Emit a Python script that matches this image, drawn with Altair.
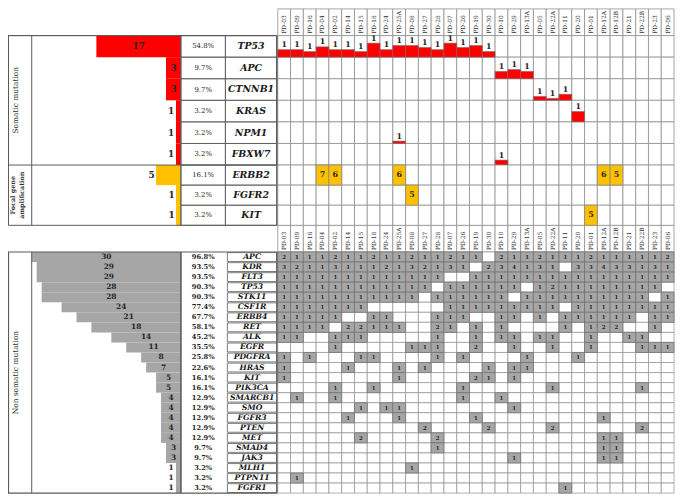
import altair as alt
import pandas as pd

# ---------------- data ----------------
samples = ["PD-03", "PD-09", "PD-16", "PD-04", "PD-02", "PD-14", "PD-15", "PD-18",
           "PD-24", "PD-25A", "PD-08", "PD-27", "PD-28", "PD-07", "PD-26", "PD-19",
           "PD-30", "PD-10", "PD-29", "PD-13A", "PD-05", "PD-22A", "PD-11", "PD-20",
           "PD-01", "PD-12A", "PD-12B", "PD-21", "PD-22B", "PD-23", "PD-06"]

som_genes = ["TP53", "APC", "CTNNB1", "KRAS", "NPM1", "FBXW7"]
som_counts = [17, 3, 3, 1, 1, 1]
som_pct = ["54.8%", "9.7%", "9.7%", "3.2%", "3.2%", "3.2%"]

som_ev_gene = ["TP53", "TP53", "TP53", "TP53", "TP53", "TP53", "TP53", "TP53", "TP53",
               "TP53", "TP53", "TP53", "TP53", "TP53", "TP53", "TP53", "TP53",
               "APC", "APC", "APC", "CTNNB1", "CTNNB1", "CTNNB1", "KRAS", "NPM1", "FBXW7"]
som_ev_sample = ["PD-03", "PD-09", "PD-16", "PD-04", "PD-02", "PD-14", "PD-15", "PD-18",
                 "PD-24", "PD-25A", "PD-08", "PD-27", "PD-28", "PD-07", "PD-26", "PD-19",
                 "PD-30", "PD-10", "PD-29", "PD-13A", "PD-05", "PD-22A", "PD-11", "PD-20",
                 "PD-25A", "PD-10"]
som_ev_vaf = [0.35, 0.35, 0.26, 0.48, 0.35, 0.35, 0.26, 0.65, 0.35, 0.54, 0.54, 0.45,
              0.35, 0.65, 0.45, 0.54, 0.26, 0.34, 0.43, 0.34, 0.18, 0.09, 0.28, 0.48,
              0.11, 0.23]
som_ev_num = [1, 1, 1, 1, 1, 1, 1, 1, 1, 1, 1, 1, 1, 1, 1, 1, 1, 1, 1, 1, 1, 1, 1, 1, 1, 1]

foc_genes = ["ERBB2", "FGFR2", "KIT"]
foc_counts = [5, 1, 1]
foc_pct = ["16.1%", "3.2%", "3.2%"]
foc_ev_gene = ["ERBB2", "ERBB2", "ERBB2", "ERBB2", "ERBB2", "FGFR2", "KIT"]
foc_ev_sample = ["PD-04", "PD-02", "PD-25A", "PD-12A", "PD-12B", "PD-08", "PD-01"]
foc_ev_copies = [7, 6, 6, 6, 5, 5, 5]

non_genes = ["APC", "KDR", "FLT3", "TP53", "STK11", "CSF1R", "ERBB4", "RET", "ALK", "EGFR",
             "PDGFRA", "HRAS", "KIT", "PIK3CA", "SMARCB1", "SMO", "FGFR3", "PTEN", "MET",
             "SMAD4", "JAK3", "MLH1", "PTPN11", "FGFR1"]
non_counts = [30, 29, 29, 28, 28, 24, 21, 18, 14, 11, 8, 7, 5, 5, 4, 4, 4, 4, 4, 3, 3, 1, 1, 1]
non_pct = ["96.8%", "93.5%", "93.5%", "90.3%", "90.3%", "77.4%", "67.7%", "58.1%", "45.2%",
           "35.5%", "25.8%", "22.6%", "16.1%", "16.1%", "12.9%", "12.9%", "12.9%", "12.9%",
           "12.9%", "9.7%", "9.7%", "3.2%", "3.2%", "3.2%"]
non_values = [
    [2, 1, 1, 1, 2, 1, 1, 2, 1, 1, 2, 1, 1, 2, 1, 1, 0, 2, 1, 1, 2, 1, 1, 1, 2, 1, 1, 1, 1, 1, 2],  # APC
    [3, 2, 1, 1, 3, 1, 1, 1, 2, 1, 3, 2, 1, 3, 1, 0, 2, 3, 4, 1, 3, 1, 0, 3, 3, 4, 3, 3, 1, 3, 1],  # KDR
    [1, 1, 1, 1, 1, 1, 1, 1, 1, 1, 1, 1, 1, 0, 0, 1, 1, 1, 1, 1, 1, 1, 1, 1, 1, 1, 1, 1, 1, 1, 1],  # FLT3
    [1, 1, 1, 1, 1, 1, 1, 1, 1, 1, 1, 1, 0, 1, 1, 1, 1, 1, 1, 0, 1, 2, 1, 1, 1, 1, 1, 1, 1, 1, 0],  # TP53
    [1, 1, 1, 1, 1, 1, 1, 1, 1, 1, 1, 0, 1, 1, 1, 1, 1, 1, 0, 1, 1, 1, 1, 1, 1, 1, 1, 1, 1, 0, 1],  # STK11
    [1, 1, 1, 1, 1, 1, 1, 0, 0, 0, 0, 0, 0, 1, 1, 1, 1, 1, 1, 1, 1, 1, 0, 1, 1, 1, 1, 1, 1, 1, 1],  # CSF1R
    [1, 1, 1, 1, 1, 0, 0, 1, 1, 0, 0, 0, 1, 1, 1, 0, 0, 1, 1, 0, 1, 0, 1, 1, 1, 1, 1, 1, 0, 1, 1],  # ERBB4
    [1, 1, 1, 1, 0, 2, 2, 1, 1, 1, 0, 0, 2, 1, 0, 1, 0, 1, 0, 0, 0, 0, 1, 0, 1, 2, 2, 0, 0, 1, 0],  # RET
    [1, 1, 0, 0, 1, 1, 1, 0, 0, 0, 0, 0, 1, 0, 0, 1, 0, 1, 1, 0, 1, 1, 0, 0, 1, 0, 0, 1, 1, 0, 0],  # ALK
    [0, 0, 0, 0, 1, 0, 0, 0, 0, 0, 1, 1, 1, 0, 0, 2, 0, 0, 1, 0, 0, 1, 0, 0, 1, 0, 0, 0, 1, 1, 1],  # EGFR
    [1, 0, 1, 0, 0, 0, 1, 1, 0, 0, 0, 0, 1, 0, 1, 0, 0, 0, 0, 1, 0, 0, 0, 1, 0, 0, 0, 0, 0, 0, 0],  # PDGFRA
    [1, 0, 0, 0, 0, 1, 0, 0, 0, 1, 0, 1, 0, 0, 0, 0, 1, 0, 1, 1, 0, 0, 0, 0, 0, 0, 0, 0, 0, 0, 0],  # HRAS
    [1, 0, 0, 0, 0, 0, 0, 0, 0, 1, 0, 0, 0, 0, 0, 2, 1, 0, 1, 0, 0, 0, 0, 0, 0, 0, 0, 0, 0, 0, 0],  # KIT
    [0, 0, 0, 0, 1, 0, 0, 1, 0, 0, 0, 0, 0, 0, 1, 0, 0, 0, 0, 0, 0, 1, 0, 0, 0, 0, 0, 0, 1, 0, 0],  # PIK3CA
    [0, 1, 0, 0, 1, 0, 0, 0, 0, 0, 0, 0, 0, 0, 1, 0, 0, 1, 0, 0, 0, 0, 0, 0, 0, 0, 0, 0, 0, 0, 0],  # SMARCB1
    [0, 0, 0, 0, 0, 0, 1, 0, 1, 1, 0, 0, 0, 0, 0, 0, 0, 0, 1, 0, 0, 0, 0, 0, 0, 0, 0, 0, 0, 0, 0],  # SMO
    [0, 0, 0, 0, 0, 1, 0, 0, 0, 1, 0, 0, 0, 0, 0, 1, 0, 0, 0, 0, 0, 0, 0, 0, 0, 1, 0, 0, 0, 0, 0],  # FGFR3
    [0, 0, 0, 0, 0, 0, 0, 0, 0, 0, 0, 2, 0, 0, 0, 0, 2, 0, 0, 0, 0, 2, 0, 0, 0, 0, 0, 0, 2, 0, 0],  # PTEN
    [0, 0, 0, 0, 0, 0, 2, 0, 0, 0, 0, 0, 2, 0, 0, 0, 0, 0, 0, 0, 0, 0, 0, 0, 0, 1, 1, 0, 0, 0, 0],  # MET
    [0, 0, 0, 0, 0, 0, 0, 0, 0, 0, 0, 0, 1, 0, 0, 0, 0, 0, 0, 0, 0, 0, 0, 0, 0, 1, 1, 0, 0, 0, 0],  # SMAD4
    [0, 0, 0, 0, 0, 0, 0, 0, 0, 0, 0, 0, 0, 0, 0, 0, 0, 0, 1, 0, 0, 0, 0, 0, 0, 1, 1, 0, 0, 0, 0],  # JAK3
    [0, 0, 0, 0, 0, 0, 0, 0, 0, 0, 1, 0, 0, 0, 0, 0, 0, 0, 0, 0, 0, 0, 0, 0, 0, 0, 0, 0, 0, 0, 0],  # MLH1
    [0, 1, 0, 0, 0, 0, 0, 0, 0, 0, 0, 0, 0, 0, 0, 0, 0, 0, 0, 0, 0, 0, 0, 0, 0, 0, 0, 0, 0, 0, 0],  # PTPN11
    [0, 0, 0, 0, 0, 0, 0, 0, 0, 0, 0, 0, 0, 0, 0, 0, 0, 0, 0, 0, 0, 0, 1, 0, 0, 0, 0, 0, 0, 0, 0],  # FGFR1
]

# ---------------- layout (pixels inside the plot area) ----------------
W, H = 677, 489
GX = [273, 674]          # sample grid
XB = [24, 175]           # count bars
XP = [175, 220]          # percent column
XG = [220, 272]          # gene column
Y_H1 = [0, 25]
Y_S = [25, 156]
Y_F = [156, 217]
Y_H2 = [217, 244]
Y_N = [244, 488]

SERIF = "DejaVu Serif"
GRID = "#8f8f8f"
FRAME = "#5a5a5a"
RED = "#ff0000"
ORANGE = "#ffc000"
GRAY = "#a6a6a6"
TXT = "#262626"


def xs():
    return alt.X("sample:N", scale=alt.Scale(type="band", domain=samples, range=GX,
                                             paddingInner=0, paddingOuter=0), axis=None)


def yb(domain, rng, pad=0.0):
    return alt.Y("gene:N", scale=alt.Scale(type="band", domain=domain, range=rng,
                                           paddingInner=pad, paddingOuter=pad / 2), axis=None)


def xc(field):
    return alt.X(field, scale=alt.Scale(domain=[0, 30], range=[XB[1], XB[0]], nice=False),
                 axis=None)


def lab_pos(counts, outside):
    out = []
    for c in counts:
        if outside:
            out.append(c + 0.9)
        elif c >= 3:
            out.append(c / 2)
        else:
            out.append(c + 1.0)
    return out


one = pd.DataFrame({"k": [0]})
samp_df = pd.DataFrame({"sample": samples})

som_df = pd.DataFrame({"gene": som_genes, "count": som_counts, "pct": som_pct,
                       "labx": lab_pos(som_counts, False)})
foc_df = pd.DataFrame({"gene": foc_genes, "count": foc_counts, "pct": foc_pct,
                       "labx": lab_pos(foc_counts, True)})
non_df = pd.DataFrame({"gene": non_genes, "count": non_counts, "pct": non_pct,
                       "labx": lab_pos(non_counts, False)})

som_cells = pd.DataFrame([{"gene": g, "sample": s} for g in som_genes for s in samples])
foc_cells = pd.DataFrame([{"gene": g, "sample": s} for g in foc_genes for s in samples])

row_of = {g: i for i, g in enumerate(som_genes)}
som_ev = pd.DataFrame({"gene": som_ev_gene, "sample": som_ev_sample, "vaf": som_ev_vaf,
                       "num": som_ev_num})
som_ev["bottom"] = [row_of[g] + 1 for g in som_ev["gene"]]
som_ev["top"] = som_ev["bottom"] - som_ev["vaf"]

foc_ev = pd.DataFrame({"gene": foc_ev_gene, "sample": foc_ev_sample, "v": foc_ev_copies})

non_rows = []
for g, vals in zip(non_genes, non_values):
    for s, v in zip(samples, vals):
        non_rows.append({"gene": g, "sample": s, "v": v})
non_cells = pd.DataFrame(non_rows)
non_hits = non_cells[non_cells["v"] > 0]

yrow = alt.Scale(domain=[0, len(som_genes)], range=Y_S, nice=False, zero=False)

layers = []

# ---- column headers ----
for (y0, y1) in (Y_H1, Y_H2):
    layers.append(alt.Chart(samp_df).mark_rect(fill="white", stroke=GRID, strokeWidth=0.8)
                  .encode(x=xs(), y=alt.value(y0 - 2 if y0 == 0 else y0), y2=alt.value(y1)))
    layers.append(alt.Chart(samp_df).mark_text(angle=270, align="left", baseline="middle",
                                               font=SERIF, fontSize=6, color="#333333")
                  .encode(x=xs(), y=alt.value(y1 - 2), text="sample:N"))

# ---- somatic grid ----
layers.append(alt.Chart(som_cells).mark_rect(fill="white", stroke=GRID, strokeWidth=0.8)
              .encode(x=xs(), y=yb(som_genes, Y_S)))
layers.append(alt.Chart(som_ev).mark_rect(fill=RED, stroke="#707070", strokeWidth=0.6)
              .encode(x=xs(), y=alt.Y("top:Q", scale=yrow, axis=None), y2="bottom:Q"))
layers.append(alt.Chart(som_ev).mark_text(baseline="bottom", dy=-0.5, font=SERIF,
                                          fontWeight="bold", fontSize=8, color=TXT)
              .encode(x=xs(), y=alt.Y("top:Q", scale=yrow, axis=None), text="num:Q"))

# ---- focal grid ----
layers.append(alt.Chart(foc_cells).mark_rect(fill="white", stroke=GRID, strokeWidth=0.8)
              .encode(x=xs(), y=yb(foc_genes, Y_F)))
layers.append(alt.Chart(foc_ev).mark_rect(fill=ORANGE, stroke="#8a8a8a", strokeWidth=0.8)
              .encode(x=xs(), y=yb(foc_genes, Y_F)))
layers.append(alt.Chart(foc_ev).mark_text(font=SERIF, fontWeight="bold", fontSize=8, color=TXT)
              .encode(x=xs(), y=yb(foc_genes, Y_F), text="v:Q"))

# ---- non-somatic grid ----
layers.append(alt.Chart(non_cells).mark_rect(fill="white", stroke=GRID, strokeWidth=0.7)
              .encode(x=xs(), y=yb(non_genes, Y_N)))
layers.append(alt.Chart(non_hits).mark_rect(fill=GRAY, stroke="#6e6e6e", strokeWidth=0.7)
              .encode(x=xs(), y=yb(non_genes, Y_N)))
layers.append(alt.Chart(non_hits).mark_text(font=SERIF, fontWeight="bold", fontSize=5.5,
                                            color=TXT)
              .encode(x=xs(), y=yb(non_genes, Y_N), text="v:Q"))

# ---- left tables: count bars, percentages, gene names ----
sections = [
    (som_df, som_genes, Y_S, RED, 9.5, 9),
    (foc_df, foc_genes, Y_F, ORANGE, 9.5, 9),
]
for df, genes, yr, col, gsize, csize in sections:
    layers.append(alt.Chart(df).mark_bar(color=col).encode(x=xc("count:Q"), y=yb(genes, yr)))
    layers.append(alt.Chart(df).mark_text(font=SERIF, fontWeight="bold", fontSize=csize,
                                          color=TXT)
                  .encode(x=xc("labx:Q"), y=yb(genes, yr), text="count:Q"))
    layers.append(alt.Chart(df).mark_rect(filled=False, stroke=FRAME, strokeWidth=0.8)
                  .encode(x=alt.value(XP[0]), x2=alt.value(XP[1]), y=yb(genes, yr)))
    layers.append(alt.Chart(df).mark_rect(filled=False, stroke=FRAME, strokeWidth=0.8)
                  .encode(x=alt.value(XG[0]), x2=alt.value(XG[1]), y=yb(genes, yr)))
    layers.append(alt.Chart(df).mark_text(font=SERIF, fontSize=7, color=TXT)
                  .encode(x=alt.value((XP[0] + XP[1]) / 2), y=yb(genes, yr), text="pct:N"))
    layers.append(alt.Chart(df).mark_text(font=SERIF, fontSize=gsize, fontStyle="italic",
                                          fontWeight="bold", color="#1a1a1a")
                  .encode(x=alt.value((XG[0] + XG[1]) / 2), y=yb(genes, yr), text="gene:N"))

# non-somatic left table
layers.append(alt.Chart(non_df).mark_bar(color=GRAY).encode(x=xc("count:Q"), y=yb(non_genes, Y_N)))
layers.append(alt.Chart(non_df).mark_text(font=SERIF, fontWeight="bold", fontSize=7.5, color=TXT)
              .encode(x=xc("labx:Q"), y=yb(non_genes, Y_N), text="count:Q"))
layers.append(alt.Chart(non_df).mark_text(font=SERIF, fontWeight="bold", fontSize=6.8, color=TXT)
              .encode(x=alt.value((XP[0] + XP[1]) / 2), y=yb(non_genes, Y_N), text="pct:N"))
layers.append(alt.Chart(non_df).mark_rect(filled=False, stroke=FRAME, strokeWidth=0.8)
              .encode(x=alt.value(XG[0] + 2), x2=alt.value(XG[1]), y=yb(non_genes, Y_N, 0.12)))
layers.append(alt.Chart(non_df).mark_text(font=SERIF, fontSize=7.8, fontStyle="italic",
                                          fontWeight="bold", color="#1a1a1a")
              .encode(x=alt.value((XG[0] + XG[1]) / 2 + 1), y=yb(non_genes, Y_N), text="gene:N"))

# ---- frames ----
def frame(x0, x1, y0, y1, w=1.0):
    return (alt.Chart(one).mark_rect(filled=False, stroke=FRAME, strokeWidth=w)
            .encode(x=alt.value(x0), x2=alt.value(x1), y=alt.value(y0), y2=alt.value(y1)))


def vline(x, y0, y1, w=1.0):
    return (alt.Chart(one).mark_rule(color=FRAME, strokeWidth=w)
            .encode(x=alt.value(x), y=alt.value(y0), y2=alt.value(y1)))


layers += [
    frame(0.5, XG[1], Y_S[0], Y_F[1]),
    frame(0.5, XG[1], Y_S[0], Y_S[1]),
    vline(XB[0], Y_S[0], Y_F[1]),
    vline(XB[1], Y_S[0], Y_F[1]),
    frame(0.5, XG[1], Y_N[0], Y_N[1], 1.2),
    vline(XB[0], Y_N[0], Y_N[1]),
    vline(XB[1], Y_N[0], Y_N[1], 1.6),
]

# ---- group labels ----
layers.append(alt.Chart(one).mark_text(text="Somatic mutation", angle=270, font=SERIF,
                                       fontSize=7.5, color="#333333", baseline="middle")
              .encode(x=alt.value(8), y=alt.value((Y_S[0] + Y_S[1]) / 2)))
for txt, xx in (("Focal gene", 5), ("amplification", 14)):
    layers.append(alt.Chart(one).mark_text(text=txt, angle=270, font=SERIF, fontSize=6.5,
                                           fontWeight="bold", color="#333333",
                                           baseline="middle")
                  .encode(x=alt.value(xx), y=alt.value((Y_F[0] + Y_F[1]) / 2)))
layers.append(alt.Chart(one).mark_text(text="Non somatic mutation", angle=270, font=SERIF,
                                       fontSize=7.5, color="#333333", baseline="middle")
              .encode(x=alt.value(8), y=alt.value((Y_N[0] + Y_N[1]) / 2)))

chart = (alt.layer(*layers)
         .resolve_scale(x="independent", y="independent")
         .properties(width=W, height=H, autosize=alt.AutoSizeParams(type="none"), padding=0)
         .configure_view(stroke=None))

chart.save("out.html", embed_options={"renderer": "svg", "actions": False})
